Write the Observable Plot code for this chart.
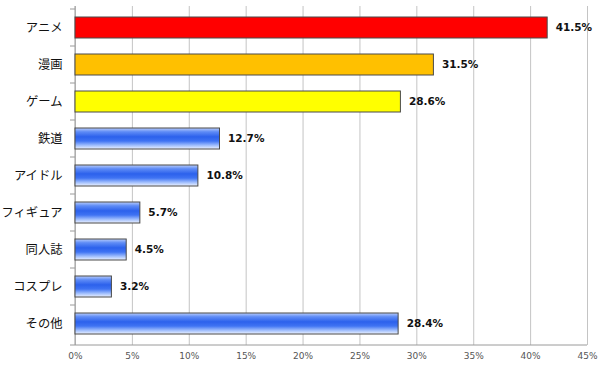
<!DOCTYPE html>
<html>
<head>
<meta charset="utf-8">
<script src="https://cdn.jsdelivr.net/npm/d3@7"></script>
<script src="https://cdn.jsdelivr.net/npm/@observablehq/plot@0.6"></script>
<style>
  html, body { margin: 0; padding: 0; background: #fff; }
</style>
</head>
<body>
<div id="chart"></div>
<script>
const categories = ["アニメ", "漫画", "ゲーム", "鉄道", "アイドル", "フィギュア", "同人誌", "コスプレ", "その他"];
const values = [41.5, 31.5, 28.6, 12.7, 10.8, 5.7, 4.5, 3.2, 28.4];
const xTicks = [0, 5, 10, 15, 20, 25, 30, 35, 40, 45];

const data = categories.map((c, i) => ({category: c, value: values[i]}));

const barColors = ["#ff0000", "#ffc000", "#ffff00", "url(#blueGrad)", "url(#blueGrad)", "url(#blueGrad)", "url(#blueGrad)", "url(#blueGrad)", "url(#blueGrad)"];

function axisDecor(index, scales, values, dims) {
  const x = scales.x, y = scales.y;
  const bw = typeof y.bandwidth === "function" ? y.bandwidth() : y.bandwidth;
  const step = typeof y.step === "function" ? y.step() : bw / (1 - 0.42);
  const g = d3.create("svg:g");
  const x0 = x(0), x1 = x(xTicks[xTicks.length - 1]);
  const top = dims.marginTop, bottom = dims.height - dims.marginBottom;
  g.append("line").attr("x1", x0).attr("x2", x0).attr("y1", top).attr("y2", bottom)
    .attr("stroke", "#9a9a9a");
  g.append("line").attr("x1", x0).attr("x2", x1).attr("y1", bottom).attr("y2", bottom)
    .attr("stroke", "#9a9a9a");
  categories.forEach((c, i) => {
    const yy = y(c) - (step - bw) / 2;
    g.append("line").attr("x1", x0 - 5).attr("x2", x0).attr("y1", yy).attr("y2", yy)
      .attr("stroke", "#9a9a9a");
  });
  g.append("line").attr("x1", x0 - 5).attr("x2", x0).attr("y1", bottom).attr("y2", bottom)
    .attr("stroke", "#9a9a9a");
  return g.node();
}

const chart = Plot.plot({
  width: 600,
  height: 368,
  marginLeft: 75,
  marginRight: 13,
  marginTop: 6,
  marginBottom: 23,
  style: {fontFamily: "'DejaVu Sans', Verdana, sans-serif", fontSize: "9px", background: "#fff", color: "#555"},
  x: {domain: [0, 45], ticks: xTicks, tickFormat: d => d + "%", tickSize: 0, tickPadding: 7, label: null},
  y: {domain: categories, paddingInner: 0.42, paddingOuter: 0.21, axis: null, label: null},
  color: {domain: categories, range: barColors},
  marks: [
    Plot.ruleX(xTicks, {stroke: "#c4c4c4", strokeWidth: 1}),
    axisDecor,
    Plot.barX(data, {y: "category", x: "value", fill: "category", stroke: "#4a4a4a", strokeWidth: 1}),
    Plot.text(data, {
      y: "category", x: "value", text: d => d.value.toFixed(1) + "%",
      dx: 8, textAnchor: "start", fill: "#111", fontWeight: "bold", fontSize: 10.5,
      fontFamily: "'DejaVu Sans', Verdana, sans-serif"
    }),
    Plot.text(data, {
      y: "category", text: "category", frameAnchor: "left", textAnchor: "end",
      dx: -13, fill: "#111", fontSize: 12.3, fontWeight: 400,
      fontFamily: "'Noto Sans CJK JP', sans-serif"
    })
  ]
});

const svg = d3.select(chart.tagName.toLowerCase() === "svg" ? chart : chart.querySelector("svg"));
const defs = svg.insert("defs", ":first-child");
const grad = defs.append("linearGradient").attr("id", "blueGrad")
  .attr("x1", 0).attr("y1", 0).attr("x2", 0).attr("y2", 1);
[
  [0, "#b9cdfc"],
  [0.18, "#5f8cf6"],
  [0.42, "#2c61ec"],
  [0.62, "#3f73f3"],
  [0.82, "#9dbcfd"],
  [1, "#eef3ff"]
].forEach(([o, c]) => grad.append("stop").attr("offset", o).attr("stop-color", c));

document.getElementById("chart").appendChild(chart);
</script>
</body>
</html>
